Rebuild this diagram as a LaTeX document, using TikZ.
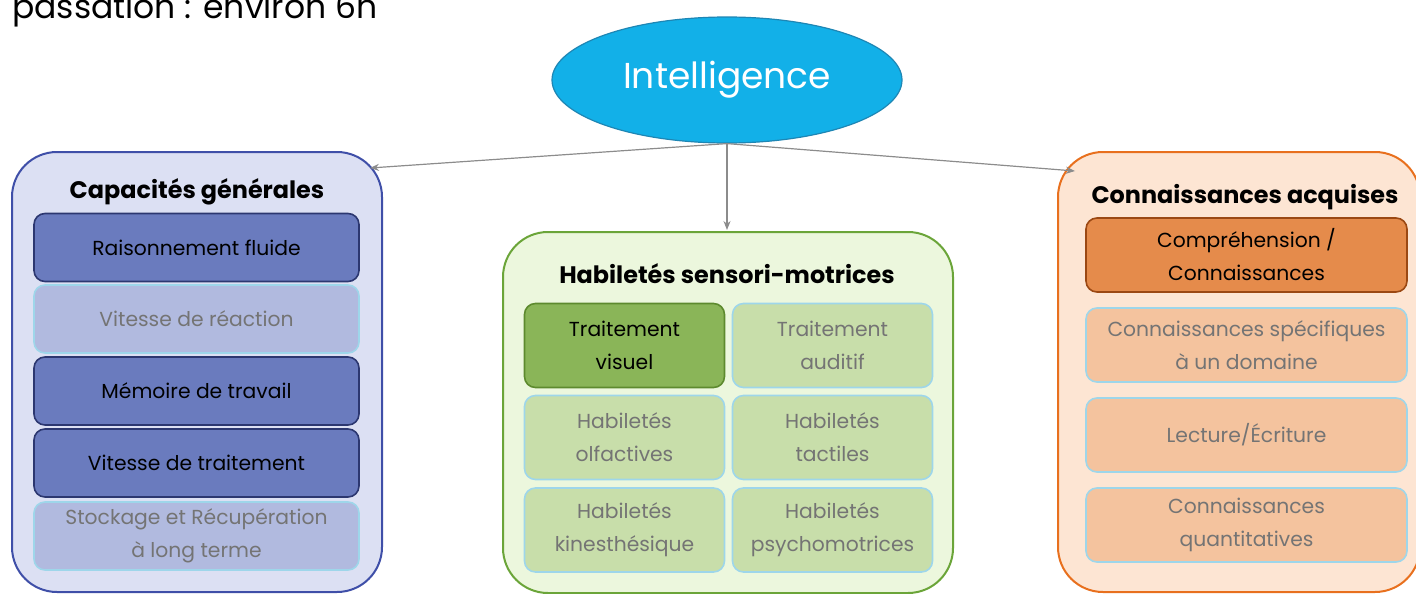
\documentclass[tikz,border=0pt]{standalone}
\usepackage{fontspec}
\setmainfont{Poppins}
\usetikzlibrary{shapes.geometric,arrows.meta}
\definecolor{ellfill}{HTML}{12B0E8}
\definecolor{elldraw}{HTML}{1E86B4}
\definecolor{Lbg}{HTML}{DCE0F3}
\definecolor{Lbd}{HTML}{3F4FA8}
\definecolor{Ldk}{HTML}{6A7BBE}
\definecolor{Ldkd}{HTML}{2C3770}
\definecolor{Llt}{HTML}{B1BADF}
\definecolor{Mbg}{HTML}{ECF7DD}
\definecolor{Mbd}{HTML}{6BA539}
\definecolor{Mdk}{HTML}{8AB558}
\definecolor{Mdkd}{HTML}{5D8A2E}
\definecolor{Mlt}{HTML}{C8DEAA}
\definecolor{Rbg}{HTML}{FDE5D3}
\definecolor{Rbd}{HTML}{E8701E}
\definecolor{Rdk}{HTML}{E58B4B}
\definecolor{Rdkd}{HTML}{9B4813}
\definecolor{Rlt}{HTML}{F4C39E}
\definecolor{ltborder}{HTML}{9ED6EA}
\definecolor{greytext}{HTML}{747474}
\definecolor{arrgrey}{HTML}{8C8C8C}
\begin{document}
\begin{tikzpicture}[x=1pt,y=-1pt,
  big/.style={draw, rounded corners=45pt, line width=2pt, inner sep=0pt},
  item/.style={draw, rounded corners=11pt, line width=1.6pt, inner sep=0pt, align=center,
    font=\fontsize{20.3}{33}\selectfont},
  darkitem/.style={item, text=black},
  lightitem/.style={item, draw=ltborder, text=greytext},
  grouptitle/.style={anchor=base, font=\fontsize{23.9}{28}\selectfont\bfseries},
  arr/.style={draw=arrgrey, line width=1.2pt, -{Stealth[length=9pt,width=7pt]}}
]
\useasboundingbox (0,0) rectangle (1416,594);
\clip (0,0) rectangle (1416,594);

% header
\node[anchor=base west, inner sep=0pt, font=\fontsize{33}{36}\selectfont] (hdr) at (12,19) {passation : environ 6h};

% ellipse
\node[ellipse, draw=elldraw, fill=ellfill, line width=1.2pt, minimum width=350pt, minimum height=126pt,
  inner sep=0pt, text=white, font=\fontsize{36}{40}\selectfont] (intel) at (727,80) {Intelligence};

% group boxes
\node[big, draw=Lbd, fill=Lbg, minimum width=370pt, minimum height=440pt] (cap) at (197,372) {};
\node[big, draw=Mbd, fill=Mbg, minimum width=450pt, minimum height=361pt] (hab) at (728,412.5) {};
\node[big, draw=Rbd, fill=Rbg, minimum width=362pt, minimum height=440pt] (con) at (1239,372) {};

\node[grouptitle] (capt) at (197,198) {Capacités générales};
\node[grouptitle] (habt) at (727,283) {Habiletés sensori-motrices};
\node[grouptitle] (cont) at (1245,203) {Connaissances acquises};

% left items
\begin{scope}[every node/.append style={minimum width=325pt, minimum height=68pt}]
\node[darkitem, draw=Ldkd, fill=Ldk] (rf) at (196.5,247.5) {Raisonnement fluide};
\node[lightitem, fill=Llt] (vr) at (196.5,319) {Vitesse de réaction};
\node[darkitem, draw=Ldkd, fill=Ldk] (mt) at (196.5,391) {Mémoire de travail};
\node[darkitem, draw=Ldkd, fill=Ldk] (vt) at (196.5,463) {Vitesse de traitement};
\node[lightitem, fill=Llt] (sr) at (196.5,536) {Stockage et Récupération\\à long terme};
\end{scope}

% middle items
\begin{scope}[every node/.append style={minimum width=200pt, minimum height=84pt}]
\node[darkitem, draw=Mdkd, fill=Mdk] (tv) at (624.5,345.5) {Traitement\\visuel};
\node[lightitem, fill=Mlt] (ta) at (832.5,345.5) {Traitement\\auditif};
\node[lightitem, fill=Mlt] (ho) at (624.5,437.5) {Habiletés\\olfactives};
\node[lightitem, fill=Mlt] (ht) at (832.5,437.5) {Habiletés\\tactiles};
\node[lightitem, fill=Mlt] (hk) at (624.5,530) {Habiletés\\kinesthésique};
\node[lightitem, fill=Mlt] (hp) at (832.5,530) {Habiletés\\psychomotrices};
\end{scope}

% right items
\begin{scope}[every node/.append style={minimum width=321pt, minimum height=74pt}]
\node[darkitem, draw=Rdkd, fill=Rdk] (cc) at (1246.5,255) {Compréhension /\\Connaissances};
\node[lightitem, fill=Rlt] (cs) at (1246.5,345) {Connaissances spécifiques\\à un domaine};
\node[lightitem, fill=Rlt] (le) at (1246.5,435) {Lecture/Écriture};
\node[lightitem, fill=Rlt] (cq) at (1246.5,525) {Connaissances\\quantitatives};
\end{scope}

% arrows
\coordinate (capend) at (370,168);
\coordinate (habend) at (727,230);
\coordinate (conend) at (1075,171);
\draw[arr] (intel.south) -- (capend);
\draw[arr] (intel.south) -- (habend);
\draw[arr] (intel.south) -- (conend);
\end{tikzpicture}
\end{document}
